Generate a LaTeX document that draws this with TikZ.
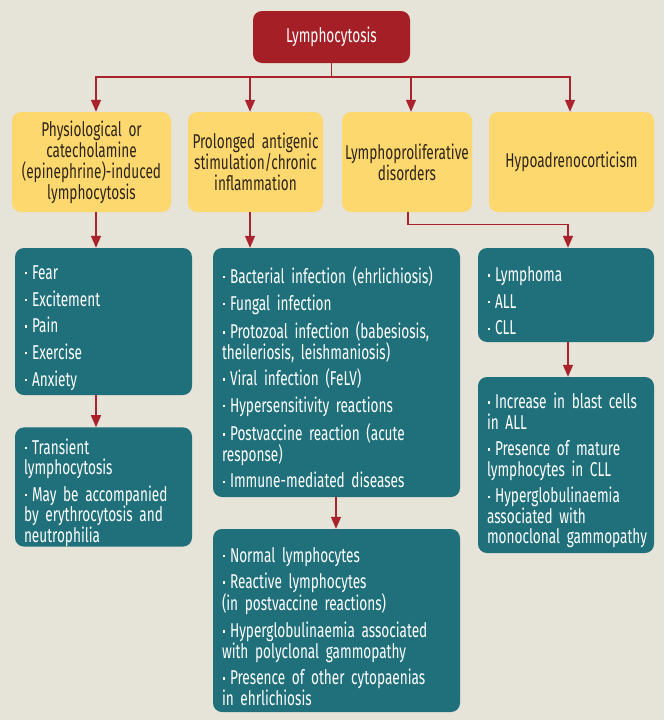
\documentclass[tikz,border=0pt]{standalone}
\usepackage{fontspec}
\setmainfont{Fira Sans}[FakeStretch=0.68]
\usetikzlibrary{arrows.meta}
\definecolor{bg}{HTML}{E6E3D8}
\definecolor{tred}{HTML}{A51F26}
\definecolor{ared}{HTML}{A8232B}
\definecolor{yel}{HTML}{FDD86E}
\definecolor{ytext}{HTML}{2E2519}
\definecolor{tealbox}{HTML}{1F707A}
\newcommand\itm[1]{\par\hangindent=8pt\hangafter=1\noindent\makebox[8pt][l]{\hspace{0.5pt}\raisebox{5pt}{\rule{2.4pt}{2.4pt}}}#1\par}
\newcommand\nohy{\hyphenpenalty=10000\exhyphenpenalty=10000\spaceskip=4.3pt plus 1pt minus 0.5pt\relax}
\tikzset{
  base/.style={rounded corners=9pt, inner ysep=0pt},
  titlebox/.style={base, fill=tred, text=white, inner xsep=0pt, minimum width=157pt, minimum height=52pt, font=\fontsize{20}{21}\selectfont},
  ybox/.style={base, fill=yel, text=ytext, align=center, inner xsep=0pt, minimum height=100pt, font=\fontsize{20}{21}\selectfont\nohy},
  tbox/.style={base, fill=tealbox, text=white, align=left, inner xsep=9pt, font=\fontsize{20}{20.5}\selectfont\setlength{\parskip}{6.2pt}\nohy},
  arr/.style={draw=ared, line width=1.4pt, -{Triangle[width=10pt,length=12pt]}},
  ln/.style={draw=ared, line width=1.4pt}
}
\begin{document}
\begin{tikzpicture}[x=1pt,y=-1pt]
\fill[bg] (0,0) rectangle (664,720);
\useasboundingbox (0,0) rectangle (664,720);
% column coordinates
\coordinate (c1) at (96,0);
\coordinate (c2) at (250,0);
\coordinate (c3) at (411,0);
\coordinate (c4) at (570,0);
\coordinate (c5) at (336,0);
\coordinate (c6) at (408,0);
\coordinate (c7) at (568,0);
\coordinate (bus) at (331.5,77);

\node[titlebox] (title) at (331.5,37) {Lymphocytosis};

\node[ybox, minimum width=159pt, text width=152pt] (y1) at (91.5,162) {Physiological or\\catecholamine\\(epinephrine)-induced\\lymphocytosis};
\node[ybox, minimum width=135pt, text width=132pt] (y2) at (255.5,162) {Prolonged antigenic\\stimulation/chronic\\inflammation};
\node[ybox, minimum width=130pt, text width=128pt] (y3) at (407,162) {Lymphoproliferative\\disorders};
\node[ybox, minimum width=165pt, text width=158pt] (y4) at (571.5,162) {Hypoadrenocorticism};

\node[tbox, text width=159pt, minimum height=147pt] (t1) at (103.5,321.5)
  {\itm{Fear}\itm{Excitement}\itm{Pain}\itm{Exercise}\itm{Anxiety}};
\node[tbox, text width=159pt, minimum height=112pt] (t2) at (103.5,487)
  {\itm{Transient\\lymphocytosis}\itm{May be accompanied\\by erythrocytosis and\\neutrophilia}};
\node[tbox, text width=229pt, minimum height=249pt] (t3) at (336.5,372.5)
  {\itm{Bacterial infection (ehrlichiosis)}\itm{Fungal infection}\itm{Protozoal infection (babesiosis,\\theileriosis, leishmaniosis)}\itm{Viral infection (FeLV)}\itm{Hypersensitivity reactions}\itm{Postvaccine reaction (acute\\response)}\itm{Immune-mediated diseases}};
\node[tbox, text width=229pt, minimum height=183pt] (t4) at (336.5,620.5)
  {\itm{Normal lymphocytes}\itm{Reactive lymphocytes\\(in postvaccine reactions)}\itm{Hyperglobulinaemia associated\\with polyclonal gammopathy}\itm{Presence of other cytopaenias\\in ehrlichiosis}};
\node[tbox, text width=158pt, minimum height=94pt] (t5) at (566,295)
  {\itm{Lymphoma}\itm{ALL}\itm{CLL}};
\node[tbox, text width=158pt, minimum height=176pt] (t6) at (566,465)
  {\itm{Increase in blast cells\\in ALL}\itm{Presence of mature\\lymphocytes in CLL}\itm{Hyperglobulinaemia\\associated with\\\mbox{monoclonal gammopathy}}};

% connectors
\draw[ln] (title.south) -- (bus);
\draw[arr] (bus) -| (y1.north -| c1);
\draw[arr] (bus) -| (y2.north -| c2);
\draw[arr] (bus) -| (y3.north -| c3);
\draw[arr] (bus) -| (y4.north -| c4);
\draw[arr] (y1.south -| c1) -- (t1.north -| c1);
\draw[arr] (t1.south -| c1) -- (t2.north -| c1);
\draw[arr] (y2.south -| c2) -- (t3.north -| c2);
\draw[arr] (t3.south -| c5) -- (t4.north -| c5);
\draw[arr] (y3.south -| c6) -- ++(0,12) -| (t5.north -| c7);
\draw[arr] (t5.south -| c7) -- (t6.north -| c7);
\end{tikzpicture}
\end{document}
